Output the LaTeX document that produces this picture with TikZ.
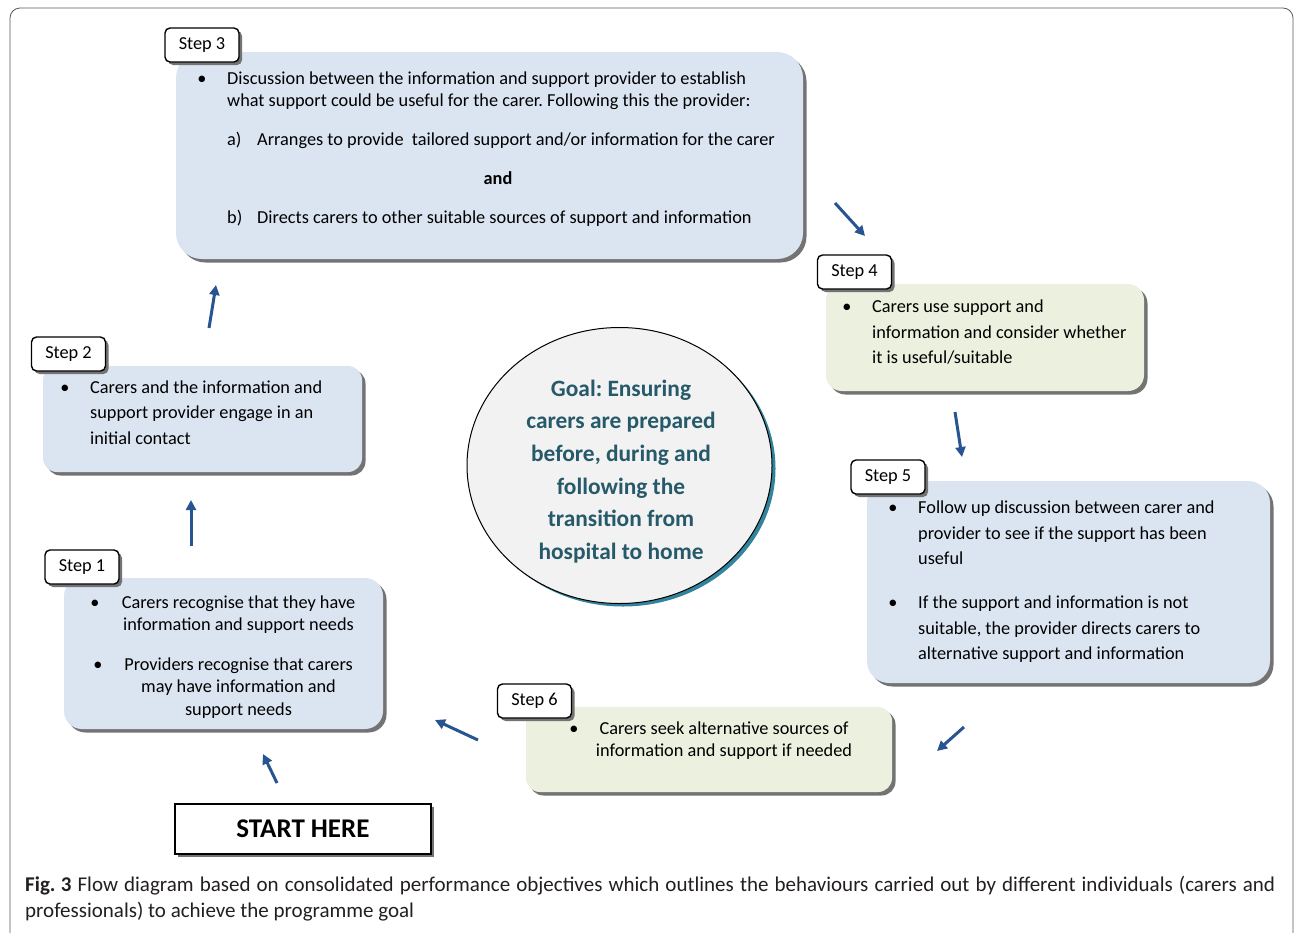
\documentclass[tikz,border=0pt]{standalone}
\usepackage{fontspec}
\setmainfont{Carlito}
\usetikzlibrary{arrows.meta,shadows,shapes.geometric}
\frenchspacing

\definecolor{boxblue}{RGB}{219,229,241}
\definecolor{boxgreen}{RGB}{235,241,222}
\definecolor{flowblue}{RGB}{40,84,145}
\definecolor{goalteal}{RGB}{38,89,106}
\definecolor{goalshadow}{RGB}{49,132,155}
\definecolor{captext}{RGB}{35,31,32}

\newcommand{\bodyfont}{\fontsize{18.3}{22}\selectfont}

\tikzstyle{panel}=[inner sep=0pt,general shadow={fill=black!55,shadow xshift=3.5pt,shadow yshift=-3.5pt}]
\tikzstyle{bluepanel}=[panel,fill=boxblue]
\tikzstyle{greenpanel}=[panel,fill=boxgreen]
\tikzstyle{steplabel}=[draw,line width=1.4pt,fill=white,rounded corners=5pt,minimum width=74pt,minimum height=34pt,inner sep=0pt,font=\bodyfont,general shadow={fill=black!55,shadow xshift=3pt,shadow yshift=-3pt}]
\tikzstyle{txtline}=[anchor=west,inner sep=0pt,text height=15.5pt,text depth=4.5pt,font=\bodyfont]
\tikzstyle{midline}=[txtline,anchor=center]
\tikzstyle{flow}=[draw=flowblue,line width=3pt,-{Triangle[length=10pt,width=10pt]}]

\begin{document}
\begin{tikzpicture}[x=1pt,y=-1pt]
\useasboundingbox (0,0) rectangle (1295,932);
\draw[black!65,line width=0.8pt,rounded corners=10pt] (10,8) rectangle (1293,945);

% panels
\foreach \n/\x/\y/\w/\h/\r/\kind in {3/489.5/155.5/627/207/26/bluepanel,
                                     4/985/337.5/318/107/16/greenpanel,
                                     5/1068.5/582/403/202/22/bluepanel,
                                     6/709/749.5/366/85/14/greenpanel,
                                     1/223.5/653.5/319/151/18/bluepanel,
                                     2/202.5/419/319/106/14/bluepanel}{
  \node[\kind,minimum width=\w pt,minimum height=\h pt,rounded corners=\r pt] (box\n) at (\x,\y) {};
}
\foreach \n/\x/\y in {3/202/45, 4/854.5/272, 5/888/477, 6/534.5/701, 1/82/567, 2/68.5/354}{
  \node[steplabel] (step\n) at (\x,\y) {Step \n};
}

% bullets
\foreach \x/\y [count=\i] in {202/79, 847/307, 893/508, 893/603, 574/729, 95/603, 98/665, 65/388}{
  \node[midline] (dot\i) at (\x,\y) {\textbullet};
}

% left aligned lines
\foreach \x/\y/\t [count=\i] in {227/79/{Discussion between the information and support provider to establish},
    227/101/{what support could be useful for the carer. Following this the provider:},
    227/140/{a)}, 257/140/{Arranges to provide\ \ tailored support and/or information for the carer},
    227/218/{b)}, 257/218/{Directs carers to other suitable sources of support and information},
    872/307/{Carers use support and}, 872/333/{information and consider whether},
    872/358/{it is useful/suitable},
    918/508/{Follow up discussion between carer and}, 918/534/{provider to see if the support has been},
    918/559/{useful}, 918/603/{If the support and information is not},
    918/629/{suitable, the provider directs carers to}, 918/654/{alternative support and information},
    90/388/{Carers and the information and}, 90/413/{support provider engage in an},
    90/439/{initial contact}}{
  \node[txtline] (txt\i) at (\x,\y) {\t};
}

% centred lines
\foreach \x/\y/\t [count=\i] in {498/179/{\textbf{and}},
    724/729/{Carers seek alternative sources of}, 724/751/{information and support if needed},
    238.5/603/{Carers recognise that they have}, 238.5/625/{information and support needs},
    238.5/665/{Providers recognise that carers}, 238.5/687/{may have information and},
    238.5/710/{support needs}}{
  \node[midline] (mid\i) at (\x,\y) {\t};
}

% goal
\node[ellipse,draw,line width=1pt,fill=black!5,minimum width=305pt,minimum height=276pt,
      general shadow={fill=goalshadow,shadow xshift=3.5pt,shadow yshift=-3pt}] (goal) at (619.5,465.5) {};
\node[align=center,text=goalteal,font=\fontsize{23.4}{32.6}\selectfont\bfseries] (goaltxt) at (621,471.5)
  {Goal: Ensuring\\carers are prepared\\before, during and\\following the\\transition from\\hospital to home};

% start
\node[draw,line width=2pt,fill=white,minimum width=256pt,minimum height=50pt,font=\fontsize{27}{32}\selectfont\bfseries,
      general shadow={fill=black!55,shadow xshift=3pt,shadow yshift=-3pt}] (start) at (303,829) {START HERE};

% arrows
\foreach \xa/\ya/\xb/\yb [count=\i] in {277/783/263/754, 191/546/191/500, 209/328/216/285,
                                        835/203/865/236, 955/412/962/457, 964/727/937/751,
                                        478/740/435/720}{
  \coordinate (fs\i) at (\xa,\ya);
  \coordinate (fe\i) at (\xb,\yb);
  \draw[flow] (fs\i) -- (fe\i);
}

% caption
\node[anchor=base west,inner sep=0pt,text=captext,font=\fontsize{21}{26}\selectfont] (cap1) at (25,891)
  {\hbox to 1250pt{\textbf{Fig.\kern0.25em3} Flow diagram based on consolidated performance objectives which outlines the behaviours carried out by different individuals (carers and}};
\node[anchor=base west,inner sep=0pt,text=captext,font=\fontsize{21}{26}\selectfont] (cap2) at (25,917)
  {professionals) to achieve the programme goal};
\end{tikzpicture}
\end{document}
